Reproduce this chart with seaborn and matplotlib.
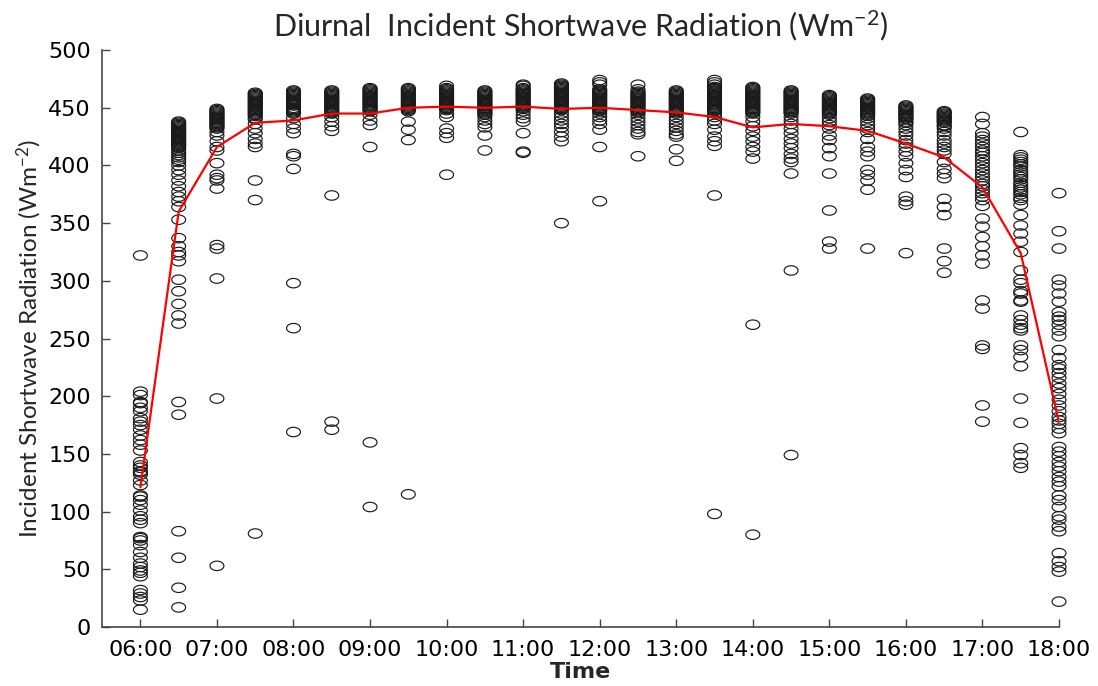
import numpy as np
import pandas as pd
import matplotlib
matplotlib.use("Agg")
import matplotlib.pyplot as plt
from matplotlib.path import Path
from matplotlib.markers import MarkerStyle
import seaborn as sns

# half-hourly slots, 06:00 .. 18:00
slots = ["06:00", "06:30", "07:00", "07:30", "08:00", "08:30", "09:00", "09:30",
         "10:00", "10:30", "11:00", "11:30", "12:00", "12:30", "13:00", "13:30",
         "14:00", "14:30", "15:00", "15:30", "16:00", "16:30", "17:00", "17:30",
         "18:00"]
tick_labels = ["06:00", "07:00", "08:00", "09:00", "10:00", "11:00", "12:00",
               "13:00", "14:00", "15:00", "16:00", "17:00", "18:00"]

r_0600 = [322, 204, 201, 195, 194, 190, 187, 181, 178, 175, 171, 166, 162, 158, 153, 143,
          140, 138, 135, 134, 132, 127, 123, 114, 113, 110, 106, 101, 96, 93, 90, 78, 77,
          75, 71, 65, 60, 55, 52, 49, 47, 44, 32, 29, 26, 23, 15]
r_0630 = [438, 437, 436, 435, 434, 433, 432, 431, 430, 429, 428, 427, 426, 425, 424, 423,
          422, 421, 420, 419, 418, 417, 416, 415, 413, 411, 409, 407, 405, 403, 400, 396,
          392, 387, 382, 377, 373, 369, 364, 353, 337, 330, 325, 322, 317, 301, 291, 280,
          270, 263, 195, 184, 83, 60, 34, 17]
r_0700 = [449, 448, 447, 446, 445, 444, 443, 442, 441, 440, 439, 438, 437, 436, 435, 434,
          433, 432, 429, 426, 421, 416, 413, 402, 392, 389, 387, 380, 331, 328, 302, 198, 53]
r_0730 = [463, 462, 461, 460, 459, 458, 457, 456, 455, 454, 453, 452, 451, 450, 449, 448,
          447, 446, 445, 444, 443, 441, 440, 436, 432, 428, 423, 419, 416, 387, 370, 81]
r_0800 = [465, 464, 463, 462, 461, 460, 459, 458, 457, 456, 455, 454, 453, 452, 450, 449,
          448, 447, 446, 445, 441, 436, 432, 428, 410, 408, 397, 298, 259, 169]
r_0830 = [465, 464, 463, 462, 461, 460, 459, 458, 457, 456, 455, 454, 453, 452, 451, 450,
          449, 448, 447, 446, 445, 442, 438, 434, 430, 374, 178, 171]
r_0900 = [467, 466, 465, 464, 463, 462, 461, 460, 459, 458, 457, 456, 455, 454, 453, 452,
          451, 450, 449, 448, 447, 444, 439, 435, 416, 160, 104]
r_0930 = [467, 466, 465, 464, 463, 462, 461, 460, 459, 458, 457, 456, 455, 454, 453, 452,
          451, 450, 449, 448, 447, 438, 431, 422, 115]
r_1000 = [469, 467, 466, 465, 464, 463, 462, 461, 460, 459, 458, 457, 456, 455, 454, 453,
          452, 451, 450, 449, 448, 445, 442, 432, 428, 424, 392]
r_1030 = [465, 464, 463, 462, 461, 460, 459, 458, 457, 456, 455, 454, 453, 452, 451, 450,
          449, 448, 447, 446, 445, 444, 442, 439, 436, 433, 426, 413]
r_1100 = [470, 469, 467, 466, 465, 464, 463, 462, 461, 460, 459, 458, 457, 456, 455, 454,
          453, 452, 451, 450, 449, 447, 444, 441, 438, 428, 412, 411]
r_1130 = [471, 470, 469, 468, 467, 466, 465, 464, 463, 462, 461, 460, 459, 458, 457, 456,
          455, 454, 453, 452, 451, 450, 449, 448, 445, 442, 439, 436, 433, 429, 425, 421,
          350]
r_1200 = [474, 472, 470, 466, 465, 464, 463, 462, 461, 460, 459, 458, 457, 456, 455, 454,
          453, 452, 451, 450, 449, 448, 447, 445, 442, 439, 436, 431, 416, 369]
r_1230 = [470, 466, 464, 463, 462, 461, 460, 459, 458, 457, 456, 455, 454, 453, 452, 451,
          450, 449, 448, 447, 446, 444, 441, 438, 435, 432, 429, 427, 408]
r_1300 = [465, 464, 463, 462, 461, 460, 459, 458, 457, 456, 455, 454, 453, 452, 451, 450,
          449, 448, 447, 446, 445, 442, 439, 436, 433, 430, 427, 425, 414, 404]
r_1330 = [474, 472, 470, 468, 467, 466, 465, 464, 463, 462, 461, 460, 459, 458, 457, 456,
          455, 454, 453, 452, 451, 450, 449, 448, 447, 445, 442, 439, 436, 431, 425, 421,
          417, 374, 98]
r_1400 = [468, 467, 466, 465, 464, 463, 462, 461, 460, 459, 458, 457, 456, 455, 454, 453,
          452, 451, 450, 449, 448, 447, 446, 445, 442, 438, 434, 430, 425, 421, 416, 412,
          406, 262, 80]
r_1430 = [465, 464, 463, 462, 461, 460, 459, 458, 457, 456, 455, 454, 453, 452, 451, 450,
          449, 448, 447, 446, 445, 442, 439, 436, 432, 428, 423, 419, 415, 410, 406, 403,
          393, 309, 149]
r_1500 = [461, 460, 459, 458, 457, 456, 455, 454, 453, 452, 451, 450, 449, 448, 447, 446,
          445, 444, 441, 438, 435, 432, 426, 422, 415, 408, 393, 361, 334, 328]
r_1530 = [458, 457, 456, 455, 454, 453, 452, 451, 450, 449, 448, 447, 446, 445, 444, 443,
          441, 438, 435, 432, 429, 423, 416, 412, 408, 396, 392, 387, 379, 328]
r_1600 = [452, 451, 450, 449, 448, 447, 446, 445, 444, 443, 442, 441, 440, 438, 437, 435,
          432, 429, 426, 422, 419, 416, 412, 408, 402, 396, 390, 373, 369, 366, 324]
r_1630 = [447, 446, 445, 444, 443, 442, 441, 440, 439, 438, 437, 435, 434, 432, 429, 426,
          422, 419, 416, 413, 410, 403, 397, 393, 389, 371, 364, 357, 328, 317, 307]
r_1700 = [442, 436, 428, 425, 422, 419, 416, 413, 411, 408, 405, 402, 399, 396, 393, 390,
          387, 384, 382, 379, 376, 373, 370, 365, 354, 347, 338, 330, 322, 315, 283, 276,
          244, 241, 192, 178]
r_1730 = [429, 409, 407, 405, 403, 401, 399, 396, 394, 392, 390, 388, 385, 383, 381, 379,
          377, 375, 372, 370, 366, 357, 348, 341, 334, 325, 309, 301, 298, 291, 289, 283,
          282, 270, 266, 262, 259, 257, 244, 240, 234, 226, 198, 177, 155, 149, 142, 138]
r_1800 = [376, 343, 328, 301, 296, 289, 282, 273, 269, 266, 262, 257, 252, 240, 233, 227,
          224, 220, 216, 211, 207, 202, 197, 192, 187, 182, 179, 176, 172, 168, 156, 152,
          148, 143, 139, 135, 130, 126, 122, 114, 110, 104, 96, 93, 87, 83, 64, 57, 52,
          48, 22]

# mean curve (red line)
mean_rad = [121, 360, 416, 437, 439, 445, 445, 450, 451, 450, 451, 449, 450, 448, 446,
            442, 433, 436, 434, 430, 419, 407, 381, 324, 177]

columns = [r_0600, r_0630, r_0700, r_0730, r_0800, r_0830, r_0900, r_0930, r_1000,
           r_1030, r_1100, r_1130, r_1200, r_1230, r_1300, r_1330, r_1400, r_1430,
           r_1500, r_1530, r_1600, r_1630, r_1700, r_1730, r_1800]


def to_hours(s):
    h, m = s.split(":")
    return int(h) + int(m) / 60


rows = []
for slot, vals in zip(slots, columns):
    for v in vals:
        rows.append((to_hours(slot), v))
df = pd.DataFrame(rows, columns=["time", "rad"])
mean_df = pd.DataFrame({"time": [to_hours(s) for s in slots], "rad": mean_rad})

sns.set_style("ticks")
plt.rcParams["font.family"] = ["DejaVu Sans"]
plt.rcParams["mathtext.fontset"] = "custom"
plt.rcParams["mathtext.rm"] = "Lato"
plt.rcParams["mathtext.it"] = "Lato:italic"

# flat ellipse marker like the original
theta = np.linspace(0, 2 * np.pi, 41)
ellipse = MarkerStyle(Path(np.column_stack([np.cos(theta), 0.68 * np.sin(theta)]), closed=True))

fig = plt.figure(figsize=(10.98, 6.86), dpi=100)
ax = fig.add_axes([0.093, 0.086, 0.8715, 0.841])

sns.scatterplot(data=df, x="time", y="rad", ax=ax, marker=ellipse, s=100,
                color="black", facecolor="none", edgecolor="#1a1a1a",
                linewidth=0.85, clip_on=False, zorder=2)
sns.lineplot(data=mean_df, x="time", y="rad", ax=ax, color="red", lw=1.6, zorder=3)

ax.set_xlim(5.5, 18.0)
ax.set_ylim(0, 500)
ax.set_xticks([to_hours(t) for t in tick_labels])
ax.set_xticklabels(tick_labels)
ax.set_yticks(np.arange(0, 501, 50))
ax.tick_params(direction="in", length=6, width=1, color="#444444",
               labelsize=16, labelcolor="black", pad=9)
ax.tick_params(axis="y", pad=8)
sns.despine(ax=ax)
for sp in ["left", "bottom"]:
    ax.spines[sp].set_color("#444444")
    ax.spines[sp].set_linewidth(1.2)

ax.set_xlabel("Time", fontsize=16, fontweight="bold", labelpad=2)
ax.set_ylabel("Incident Shortwave Radiation (Wm$^{-2}$)", family="Lato",
              fontsize=17.5, labelpad=3)
ax.set_title("Diurnal  Incident Shortwave Radiation (Wm$^{-2}$)", family="Lato",
             fontsize=22, pad=10)

fig.savefig("out.png", dpi=100)
